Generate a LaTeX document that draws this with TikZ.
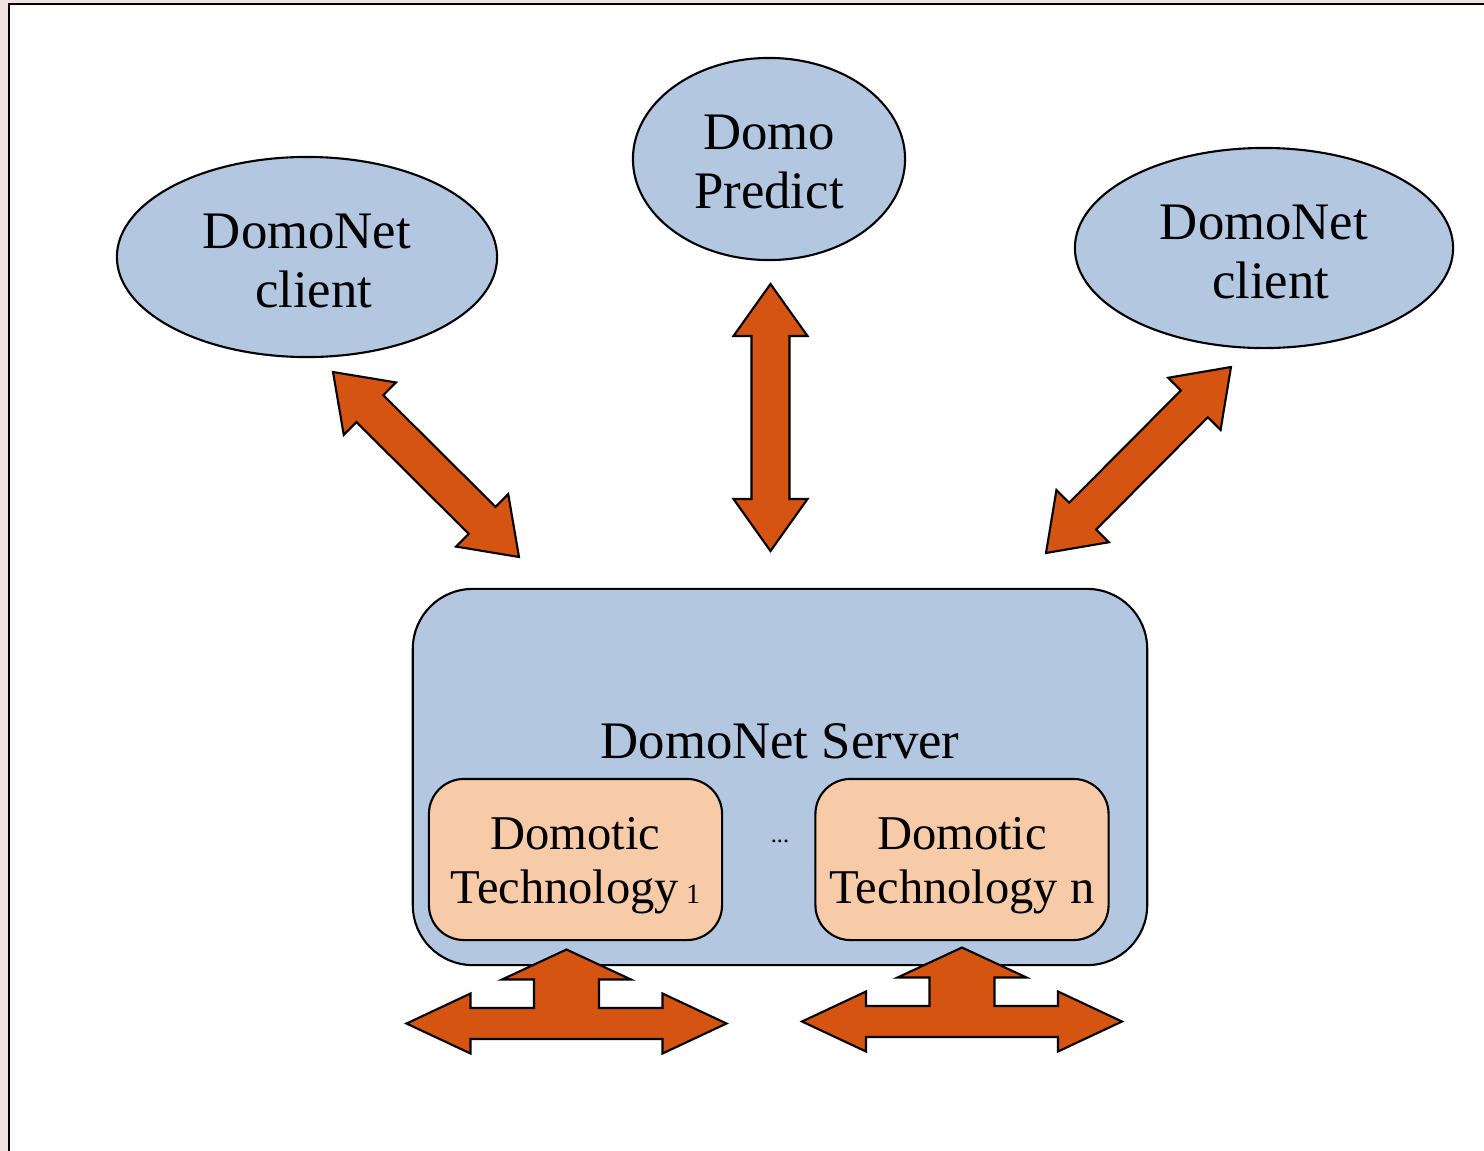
\documentclass[tikz,border=0pt]{standalone}
\usepackage{fontspec}
\setmainfont{Liberation Serif}
\usetikzlibrary{shapes.geometric, calc}
\definecolor{domoblue}{RGB}{180,199,224}
\definecolor{domoorange}{RGB}{213,84,18}
\definecolor{domopeach}{RGB}{247,203,168}
\definecolor{framepink}{RGB}{240,226,226}
\newcommand{\topgap}[1]{\rule{0pt}{#1}}
\tikzset{>=stealth,
  client/.style={ellipse, draw, fill=domoblue, line width=0.6pt, inner sep=0pt,
    align=center, font=\fontsize{15}{16.8}\selectfont},
  tech/.style={draw, fill=domopeach, rounded corners=0.35cm, line width=0.6pt,
    minimum width=2.93cm, minimum height=1.61cm, inner sep=0pt,
    align=center, font=\fontsize{13.8}{15.3}\selectfont},
  blockarrow/.style={fill=domoorange, draw=black, line width=0.6pt, line join=miter},
  tarrow/.pic={
    \filldraw[blockarrow] (-160,0) -- (-96,-30) -- (-96,-15.5) -- (-32.5,-15.5)
      -- (-32.5,-44) -- (-64.5,-44) -- (0,-74) -- (64.5,-44) -- (32.5,-44)
      -- (32.5,-15.5) -- (96,-15.5) -- (96,-30) -- (160,0) -- (96,30)
      -- (96,15.5) -- (-96,15.5) -- (-96,30) -- cycle;
  }}
% block double arrow from #1 to #2
\newcommand{\dblarrow}[2]{%
  \filldraw[blockarrow] (#1)
    -- ($(#1)!0.52cm!(#2)!0.37cm!90:(#2)$)
    -- ($(#1)!0.52cm!(#2)!0.19cm!90:(#2)$)
    -- ($(#2)!0.52cm!(#1)!0.19cm!-90:(#1)$)
    -- ($(#2)!0.52cm!(#1)!0.37cm!-90:(#1)$)
    -- (#2)
    -- ($(#2)!0.52cm!(#1)!0.37cm!90:(#1)$)
    -- ($(#2)!0.52cm!(#1)!0.19cm!90:(#1)$)
    -- ($(#1)!0.52cm!(#2)!0.19cm!-90:(#2)$)
    -- ($(#1)!0.52cm!(#2)!0.37cm!-90:(#2)$)
    -- cycle;}

\begin{document}
\begin{tikzpicture}[x=0.01cm, y=-0.01cm]
        \useasboundingbox (0,0) rectangle (1484,1151);
        % frame of the page
        \fill[framepink] (0,0) rectangle (9,1151);
        \fill[framepink] (0,0) rectangle (1484,4);
        \draw[line width=0.85pt] (9,1151) -- (9,4) -- (1484,4);
        % clients and predictor
        \node[client, minimum width=3.8cm, minimum height=2cm] (clientl) at (307,257) {\topgap{0.43cm}DomoNet\\\ client};
        \node[client, minimum width=2.72cm, minimum height=2.02cm] (predict) at (769,159) {\topgap{0.41cm}Domo\\Predict};
        \node[client, minimum width=3.78cm, minimum height=2cm] (clientr) at (1264,248) {\topgap{0.43cm}DomoNet\\\ client};
        % server
        \node[draw, fill=domoblue, rounded corners=0.6cm, line width=0.6pt,
              minimum width=7.34cm, minimum height=3.76cm] (server) at (780,777) {};
        \node[font=\fontsize{15}{16.8}\selectfont, anchor=base] (srvlabel) at (780,758) {DomoNet Server};
        \node[tech] (tech1) at (575.5,859.5) {\topgap{0.44cm}Domotic\\Technology{\fontsize{8}{9}\selectfont\ 1}};
        \node[tech] (techn) at (962,859.5) {\topgap{0.44cm}Domotic\\Technology n};
        \node[font=\fontsize{7}{8}\selectfont] (dots) at (780,841) {...};
        % arrow ends
        \coordinate (al1) at (333,372);
        \coordinate (al2) at (519,557);
        \coordinate (am1) at (770.5,284);
        \coordinate (am2) at (770.5,551);
        \coordinate (ar1) at (1231,367);
        \coordinate (ar2) at (1046,553);
        \dblarrow{al1}{al2}
        \dblarrow{am1}{am2}
        \dblarrow{ar1}{ar2}
        % links of the technologies
        \pic at (566.5,1023.5) {tarrow};
        \pic at (962,1021.5) {tarrow};
\end{tikzpicture}
\end{document}
